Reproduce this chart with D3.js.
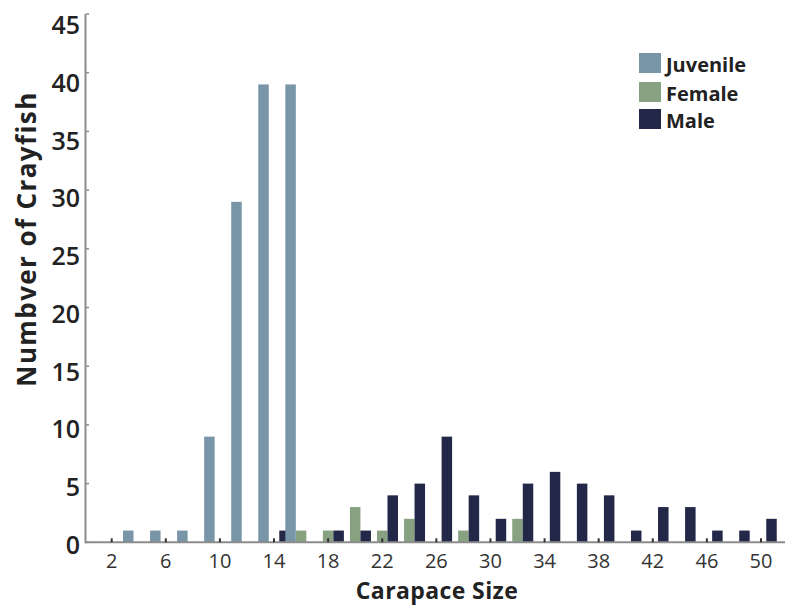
<!DOCTYPE html>
<html>
<head>
<meta charset="utf-8">
<script src="https://cdn.jsdelivr.net/npm/d3@7"></script>
<style>
  html, body { margin: 0; padding: 0; background: #ffffff; }
  svg { display: block; font-family: "Open Sans", Lato, sans-serif; }
</style>
</head>
<body>
<svg id="chart" width="785" height="606"></svg>
<script>
// ---- data ----
const sizes    = [2, 4, 6, 8, 10, 12, 14, 16, 18, 20, 22, 24, 26, 28, 30, 32, 34, 36, 38, 40, 42, 44, 46, 48, 50];
const juvenile = [0, 1, 1, 1, 9, 29, 39, 39, 0, 0, 0, 0, 0, 0, 0, 0, 0, 0, 0, 0, 0, 0, 0, 0, 0];
const female   = [0, 0, 0, 0, 0, 0, 0, 1, 1, 3, 1, 2, 0, 1, 0, 2, 0, 0, 0, 0, 0, 0, 0, 0, 0];
const male     = [0, 0, 0, 0, 0, 0, 1, 0, 1, 1, 4, 5, 9, 4, 2, 5, 6, 5, 4, 1, 3, 3, 1, 1, 2];
const seriesNames = ["Juvenile", "Female", "Male"];
const xTickValues = [2, 6, 10, 14, 18, 22, 26, 30, 34, 38, 42, 46, 50];
const yTickValues = [0, 5, 10, 15, 20, 25, 30, 35, 40, 45];

const colors = { Juvenile: "#7995a8", Female: "#88a281", Male: "#232849" };
const seriesData = { Juvenile: juvenile, Female: female, Male: male };

const svg = d3.select("#chart");

// ---- scales ----
const x = d3.scaleLinear().domain([2, 50]).range([111.7, 761]);
const sub = d3.scaleBand().domain(seriesNames).range([-15.75, 15.75]).padding(0);
const y = d3.scaleLinear().domain([0, 45]).range([542.3, 14]);
const yLab = d3.scaleLinear().domain([0, 45]).range([545, 25]);

// ---- bars ----
const rows = sizes.map((s, i) => ({ size: s, vals: seriesNames.map(n => ({ name: n, v: seriesData[n][i] })) }));
const g = svg.append("g");
const grp = g.selectAll("g.grp").data(rows).join("g").attr("class", "grp")
  .attr("transform", d => `translate(${x(d.size)},0)`);
grp.selectAll("rect").data(d => d.vals.filter(o => o.v > 0)).join("rect")
  .attr("x", o => sub(o.name))
  .attr("width", sub.bandwidth())
  .attr("y", o => y(o.v))
  .attr("height", o => y(0) - y(o.v))
  .attr("fill", o => colors[o.name]);

// ---- axes ----
const axisColor = "#8c8c8c";
svg.append("line").attr("x1", 85.5).attr("x2", 85.5).attr("y1", y(45)).attr("y2", y(0) + 1)
  .attr("stroke", axisColor).attr("stroke-width", 2);
svg.append("g").selectAll("line").data(yTickValues).join("line")
  .attr("x1", 86).attr("x2", 89).attr("y1", d => y(d)).attr("y2", d => y(d))
  .attr("stroke", axisColor).attr("stroke-width", 1.5);
svg.append("g").selectAll("text").data(yTickValues).join("text")
  .attr("x", 80).attr("y", d => yLab(d)).attr("dy", "0.36em")
  .attr("text-anchor", "end").attr("font-size", 25).attr("font-weight", 600)
  .attr("fill", "#222").text(d => d);

svg.append("line").attr("x1", 85).attr("x2", 785).attr("y1", y(0)).attr("y2", y(0))
  .attr("stroke", axisColor).attr("stroke-width", 2);
svg.append("g").selectAll("line").data(xTickValues).join("line")
  .attr("x1", d => x(d)).attr("x2", d => x(d)).attr("y1", y(0) - 4).attr("y2", y(0))
  .attr("stroke", "#333").attr("stroke-width", 2);
svg.append("g").selectAll("text").data(xTickValues).join("text")
  .attr("x", d => x(d)).attr("y", 568)
  .attr("text-anchor", "middle").attr("font-size", 20).attr("font-weight", 400)
  .attr("fill", "#333").text(d => d);

// ---- titles ----
svg.append("text").attr("x", 437).attr("y", 599).attr("text-anchor", "middle")
  .attr("font-size", 23).attr("font-weight", 700).attr("letter-spacing", 0.4).attr("fill", "#222")
  .text("Carapace Size");
svg.append("text").attr("transform", "translate(36,239) rotate(-90)").attr("text-anchor", "middle")
  .attr("font-size", 26).attr("font-weight", 700).attr("letter-spacing", 1.4).attr("fill", "#222")
  .text("Numbver of Crayfish");

// ---- legend ----
const legY = [63, 92, 119];
const leg = svg.append("g").selectAll("g").data(seriesNames).join("g")
  .attr("transform", (d, i) => `translate(639,${legY[i]})`);
leg.append("rect").attr("x", 0).attr("y", -10).attr("width", 22).attr("height", 20)
  .attr("fill", d => colors[d]);
leg.append("text").attr("x", 27).attr("y", 2).attr("dy", "0.36em")
  .attr("font-size", 20).attr("font-weight", 700).attr("fill", "#222").text(d => d);
</script>
</body>
</html>
